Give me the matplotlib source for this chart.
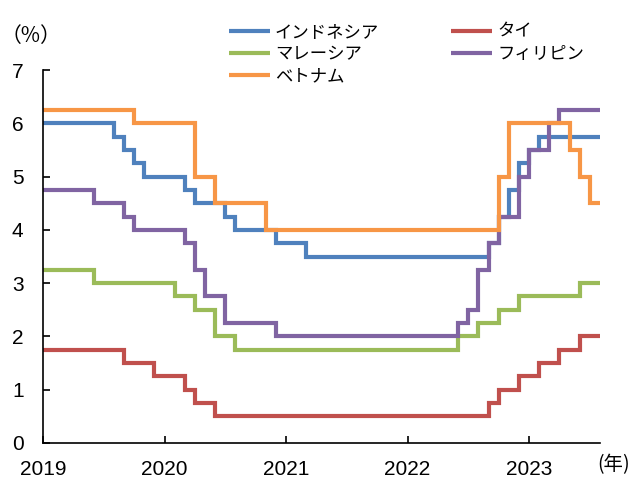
import matplotlib
matplotlib.use("Agg")
import matplotlib.pyplot as plt
import numpy as np

# month index: 0 = start of 2019, values are month-end policy rates (change points)
last_month = 55

idn_months = [0, 7, 8, 9, 10, 14, 15, 18, 19, 23, 26, 44, 45, 46, 47, 48, 49]
idn_rates = [6.0, 5.75, 5.5, 5.25, 5.0, 4.75, 4.5, 4.25, 4.0, 3.75, 3.5, 3.75, 4.25, 4.75, 5.25, 5.5, 5.75]

tha_months = [0, 8, 11, 14, 15, 17, 44, 45, 47, 49, 51, 53]
tha_rates = [1.75, 1.5, 1.25, 1.0, 0.75, 0.5, 0.75, 1.0, 1.25, 1.5, 1.75, 2.0]

mys_months = [0, 5, 13, 15, 17, 19, 41, 43, 45, 47, 53]
mys_rates = [3.25, 3.0, 2.75, 2.5, 2.0, 1.75, 2.0, 2.25, 2.5, 2.75, 3.0]

phl_months = [0, 5, 8, 9, 14, 15, 16, 18, 23, 41, 42, 43, 44, 45, 47, 48, 50, 51]
phl_rates = [4.75, 4.5, 4.25, 4.0, 3.75, 3.25, 2.75, 2.25, 2.0, 2.25, 2.5, 3.25, 3.75, 4.25, 5.0, 5.5, 6.0, 6.25]

vnm_months = [0, 9, 15, 17, 22, 45, 46, 52, 53, 54]
vnm_rates = [6.25, 6.0, 5.0, 4.5, 4.0, 5.0, 6.0, 5.5, 5.0, 4.5]

names = ['インドネシア', 'タイ', 'マレーシア', 'フィリピン', 'ベトナム']
colors = ['#4F81BD', '#C0504D', '#9BBB59', '#8064A2', '#F79646']
series = [(idn_months, idn_rates), (tha_months, tha_rates), (mys_months, mys_rates),
          (phl_months, phl_rates), (vnm_months, vnm_rates)]

years = [2019, 2020, 2021, 2022, 2023]

W, H = 634, 478
fig = plt.figure(figsize=(W / 100, H / 100), dpi=100)
ax = fig.add_axes([43 / W, 35 / H, 557 / W, 373 / H])

lines = {}
for name, col, (m, r) in zip(names, colors, series):
    x = 2019 + np.array(m + [last_month]) / 12
    y = np.array(r + [r[-1]])
    ln, = ax.step(x, y, where='post', color=col, lw=3, solid_joinstyle='miter',
                  solid_capstyle='butt')
    lines[name] = ln

ax.set_xlim(2019, 2019 + last_month / 12)
ax.set_ylim(0, 7)
ax.set_xticks(years)
ax.set_yticks(range(0, 8))
for s in ['top', 'right']:
    ax.spines[s].set_visible(False)
for s in ['left', 'bottom']:
    ax.spines[s].set_linewidth(1.2)
ax.tick_params(direction='in', length=5, width=1.2, labelsize=15, pad=14)
for lab in ax.get_xticklabels() + ax.get_yticklabels():
    lab.set_fontfamily('Liberation Sans')
ax.tick_params(axis='x', pad=12)

jp = ['Noto Sans CJK JP', 'DejaVu Sans']
leg_kw = dict(frameon=False, borderpad=0, borderaxespad=0, handlelength=2.35,
              handletextpad=0.3, labelspacing=0.25, prop={'family': jp, 'size': 12.5})
col1 = ['インドネシア', 'マレーシア', 'ベトナム']
col2 = ['タイ', 'フィリピン']
leg1 = fig.legend([lines[n] for n in col1], col1, loc='center left',
                  bbox_to_anchor=(229 / W, 1 - 54 / H), **leg_kw)
leg2 = fig.legend([lines[n] for n in col2], col2, loc='center left',
                  bbox_to_anchor=(451 / W, 1 - 43 / H), **leg_kw)

fig.text(31 / W, 1 - 36 / H, '（%）', family=jp, fontsize=15, ha='center', va='center')
fig.text(630 / W, 1 - 465 / H, '(年)', family=jp, fontsize=14, ha='right', va='center')

fig.savefig('out.png', dpi=100)
